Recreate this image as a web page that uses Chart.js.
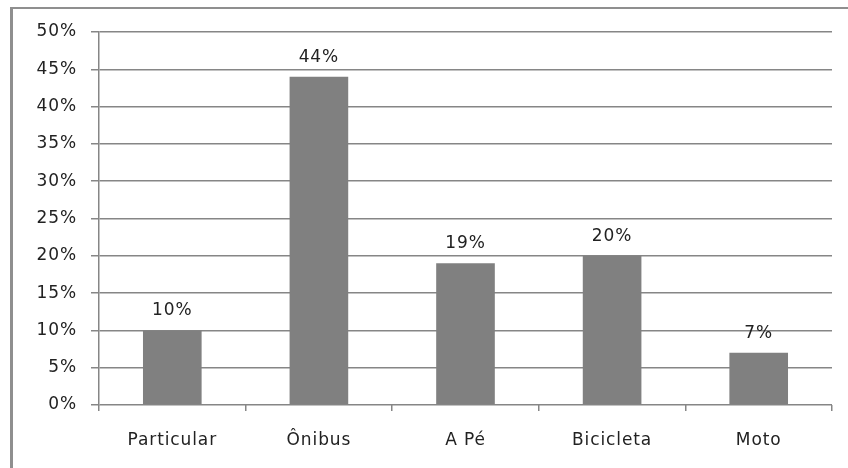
<!DOCTYPE html>
<html>
<head>
<meta charset="utf-8">
<style>
  html, body { margin: 0; padding: 0; background: #fff; }
  #wrap { position: relative; width: 848px; height: 468px; }
</style>
<script src="https://cdn.jsdelivr.net/npm/chart.js@4/dist/chart.umd.min.js"></script>
</head>
<body>
<div id="wrap"><canvas id="chart" width="848" height="468"></canvas></div>
<script>
// Meio de transporte utilizado (percentual)
const categories = ['Particular', 'Ônibus', 'A Pé', 'Bicicleta', 'Moto'];
const shares = [10, 44, 19, 20, 7];
const yTicks = [0, 5, 10, 15, 20, 25, 30, 35, 40, 45, 50];

const FONT = { family: '"DejaVu Sans", Verdana, sans-serif', size: 17 };
const TEXT = '#222';
const LINE = '#868686';

// Slightly wider letter spacing on all canvas text
const spacing = {
  id: 'spacing',
  beforeLayout(chart) { chart.ctx.letterSpacing = '0.9px'; },
  beforeDraw(chart) { chart.ctx.letterSpacing = '0.9px'; }
};

// Outer frame (left and top edges)
const frame = {
  id: 'frame',
  beforeDraw(chart) {
    const ctx = chart.ctx;
    ctx.save();
    ctx.fillStyle = '#8f8f8f';
    ctx.fillRect(10, 7, 3, chart.height - 7);
    ctx.fillRect(10, 7, chart.width - 10, 2);
    ctx.restore();
  }
};

// Value labels above each bar
const valueLabels = {
  id: 'valueLabels',
  afterDatasetsDraw(chart) {
    const ctx = chart.ctx;
    const meta = chart.getDatasetMeta(0);
    ctx.save();
    ctx.font = FONT.size + 'px ' + FONT.family;
    ctx.fillStyle = TEXT;
    ctx.textAlign = 'center';
    ctx.textBaseline = 'alphabetic';
    meta.data.forEach((bar, i) => {
      ctx.fillText(shares[i] + '%', bar.x, bar.y - 15);
    });
    ctx.restore();
  }
};

new Chart(document.getElementById('chart'), {
  type: 'bar',
  data: {
    labels: categories,
    datasets: [{
      data: shares,
      backgroundColor: '#808080',
      borderWidth: 0,
      barPercentage: 0.4,
      categoryPercentage: 1.0
    }]
  },
  options: {
    responsive: false,
    animation: false,
    events: [],
    layout: { padding: { left: 0, right: 16, top: 32, bottom: 0 } },
    plugins: { legend: { display: false }, tooltip: { enabled: false } },
    scales: {
      x: {
        offset: true,
        grid: {
          offset: true,
          drawOnChartArea: false,
          drawTicks: true,
          tickLength: 6,
          color: LINE,
          lineWidth: 1.5
        },
        border: { display: false },
        ticks: { color: TEXT, font: FONT, padding: 19, maxRotation: 0 },
        afterFit(scale) { scale.height = 63; }
      },
      y: {
        min: 0,
        max: 50,
        afterBuildTicks(scale) { scale.ticks = yTicks.map(v => ({ value: v })); },
        grid: { color: LINE, lineWidth: 1.5, tickLength: 8 },
        border: { display: true, color: LINE, width: 1.5 },
        ticks: { color: TEXT, font: FONT, padding: 14, callback: v => v + '%' },
        afterFit(scale) { scale.width = 99; }
      }
    }
  },
  plugins: [spacing, frame, valueLabels]
});
</script>
</body>
</html>
